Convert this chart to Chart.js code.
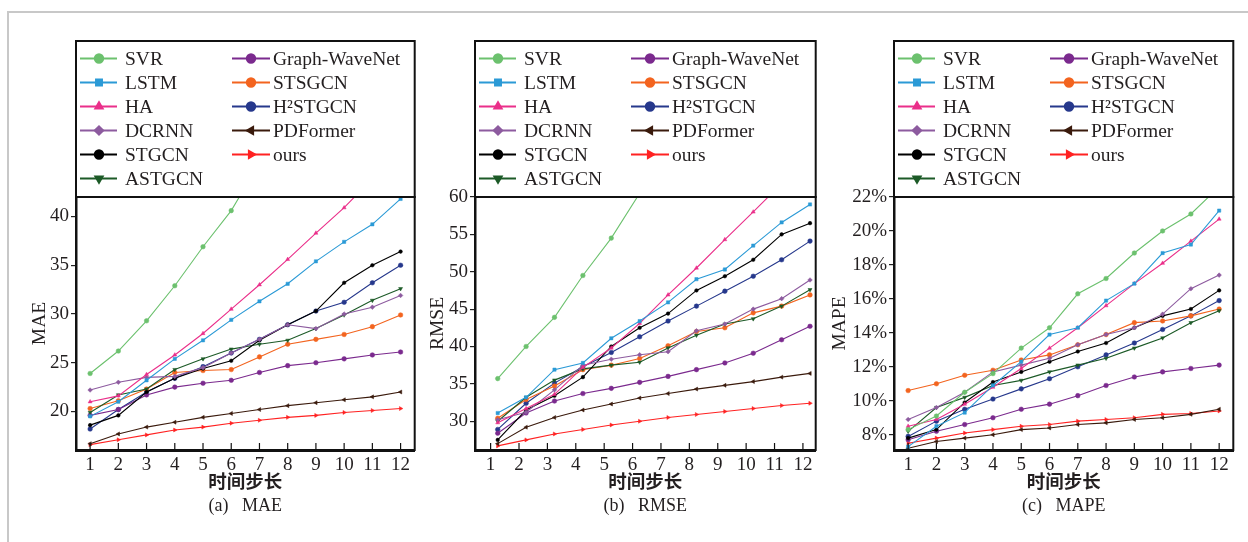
<!DOCTYPE html>
<html>
<head>
<meta charset="utf-8">
<script src="https://cdn.jsdelivr.net/npm/chart.js"></script>
<style>
    html, body { margin: 0; padding: 0; background: #fff; }
    body { width: 1248px; height: 542px; position: relative; overflow: hidden; }
    #frame { position: absolute; left: 7px; top: 11px; width: 1300px; height: 600px; border-left: 2px solid #c8c8c8; border-top: 2px solid #c8c8c8; }
    canvas { position: absolute; top: 0; }
</style>
</head>
<body>
<div id="frame"></div>
<canvas id="chart-mae" width="420" height="542" style="left:0;width:420px;height:542px"></canvas>
<canvas id="chart-rmse" width="410" height="542" style="left:420px;width:410px;height:542px"></canvas>
<canvas id="chart-mape" width="418" height="542" style="left:830px;width:418px;height:542px"></canvas>
<script>
// 时间步长
const steps = [1, 2, 3, 4, 5, 6, 7, 8, 9, 10, 11, 12]

// MAE
const maeSVR = [23.9, 26.2, 29.3, 32.9, 36.9, 40.6, 45.5, 50.5, 55.5, 60.5, 65.5, 70.5]
const maeLSTM = [19.5, 21.0, 23.2, 25.4, 27.3, 29.4, 31.3, 33.1, 35.4, 37.4, 39.2, 41.8]
const maeHA = [21.0, 21.6, 23.8, 25.8, 28.0, 30.5, 33.0, 35.6, 38.3, 40.9, 43.9, 47.0]
const maeDCRNN = [22.2, 23.0, 23.5, 23.6, 24.5, 26.0, 27.4, 28.9, 28.5, 30.0, 30.7, 31.9]
const maeSTGCN = [18.6, 19.6, 22.0, 23.4, 24.4, 25.2, 27.3, 28.9, 30.3, 33.2, 35.0, 36.4]
const maeASTGCN = [19.9, 21.7, 22.3, 24.3, 25.4, 26.4, 26.9, 27.3, 28.5, 29.9, 31.4, 32.6]
const maeGWN = [19.6, 20.2, 21.7, 22.5, 22.9, 23.2, 24.0, 24.7, 25.0, 25.4, 25.8, 26.1]
const maeSTSGCN = [20.3, 21.1, 22.3, 24.0, 24.2, 24.3, 25.6, 26.9, 27.4, 27.9, 28.7, 29.9]
const maeH2STGCN = [18.2, 20.2, 22.0, 23.4, 24.6, 26.0, 27.4, 28.9, 30.3, 31.2, 33.2, 35.0]
const maePDFormer = [16.7, 17.7, 18.4, 18.9, 19.4, 19.8, 20.2, 20.6, 20.9, 21.2, 21.5, 22.0]
const maeOurs = [16.6, 17.1, 17.6, 18.1, 18.4, 18.8, 19.1, 19.4, 19.6, 19.9, 20.1, 20.3]

// RMSE
const rmseSVR = [35.7, 40.0, 43.9, 49.5, 54.5, 60.5, 66.0, 71.0, 76.0, 81.0, 86.0, 91.0]
const rmseLSTM = [31.1, 33.2, 36.9, 37.8, 41.1, 43.4, 45.9, 49.0, 50.3, 53.5, 56.6, 59.0]
const rmseHA = [29.8, 31.7, 33.6, 37.2, 39.8, 43.1, 46.9, 50.5, 54.3, 58.0, 61.8, 65.6]
const rmseDCRNN = [30.2, 31.2, 34.2, 37.5, 38.3, 38.9, 39.3, 42.1, 43.0, 45.0, 46.4, 48.9]
const rmseSTGCN = [27.5, 31.5, 33.4, 35.9, 40.0, 42.5, 44.4, 47.5, 49.4, 51.6, 55.0, 56.5]
const rmseASTGCN = [30.0, 33.2, 35.5, 37.0, 37.5, 37.9, 39.8, 41.5, 43.0, 43.7, 45.4, 47.6]
const rmseGWN = [28.4, 31.1, 32.7, 33.7, 34.4, 35.2, 36.0, 36.9, 37.8, 39.1, 40.9, 42.7]
const rmseSTSGCN = [30.4, 32.9, 34.7, 36.9, 37.5, 38.4, 40.1, 42.0, 42.5, 44.5, 45.4, 46.9]
const rmseH2STGCN = [28.9, 32.4, 35.1, 37.3, 39.2, 41.3, 43.4, 45.4, 47.4, 49.4, 51.6, 54.1]
const rmsePDFormer = [27.0, 29.2, 30.5, 31.5, 32.3, 33.1, 33.7, 34.3, 34.8, 35.3, 35.9, 36.4]
const rmseOurs = [26.7, 27.5, 28.3, 28.9, 29.5, 30.0, 30.5, 30.9, 31.3, 31.7, 32.1, 32.4]

// MAPE (%)
const mapeSVR = [8.3, 9.1, 10.5, 11.6, 13.1, 14.3, 16.3, 17.2, 18.7, 20.0, 21.0, 22.6]
const mapeLSTM = [7.3, 8.5, 9.3, 10.9, 12.3, 13.9, 14.3, 15.9, 16.9, 18.7, 19.2, 21.2]
const mapeHA = [8.5, 8.9, 9.8, 10.8, 11.9, 13.1, 14.3, 15.6, 16.9, 18.1, 19.4, 20.7]
const mapeDCRNN = [8.9, 9.6, 10.5, 11.7, 12.1, 12.5, 13.3, 13.9, 14.3, 15.1, 16.6, 17.4]
const mapeSTGCN = [7.8, 8.3, 9.9, 11.1, 11.7, 12.3, 12.9, 13.4, 14.3, 15.0, 15.4, 16.5]
const mapeASTGCN = [8.2, 9.6, 10.2, 10.9, 11.2, 11.7, 12.1, 12.5, 13.1, 13.7, 14.6, 15.3]
const mapeGWN = [7.7, 8.2, 8.6, 9.0, 9.5, 9.8, 10.3, 10.9, 11.4, 11.7, 11.9, 12.1]
const mapeSTSGCN = [10.6, 11.0, 11.5, 11.8, 12.4, 12.7, 13.3, 13.9, 14.6, 14.7, 15.0, 15.4]
const mapeH2STGCN = [7.9, 8.8, 9.5, 10.1, 10.7, 11.3, 12.0, 12.7, 13.4, 14.2, 15.0, 15.9]
const mapePDFormer = [7.2, 7.6, 7.8, 8.0, 8.3, 8.4, 8.6, 8.7, 8.9, 9.0, 9.2, 9.5]
const mapeOurs = [7.5, 7.8, 8.1, 8.3, 8.5, 8.6, 8.8, 8.9, 9.0, 9.2, 9.25, 9.4]

// tick labels
const maeTicks = [20, 25, 30, 35, 40]
const rmseTicks = [30, 35, 40, 45, 50, 55, 60]
const mapeTicks = [8, 10, 12, 14, 16, 18, 20, 22]

// 图例顺序：左列 6 个，右列 5 个
const models = [
    { label: 'SVR', color: '#6cc16e', style: 'circle', rot: 0 },
    { label: 'LSTM', color: '#2b9ad6', style: 'rect', rot: 0 },
    { label: 'HA', color: '#ea2f8a', style: 'triangle', rot: 0 },
    { label: 'DCRNN', color: '#8d5b9f', style: 'rectRot', rot: 0 },
    { label: 'STGCN', color: '#000000', style: 'circle', rot: 0 },
    { label: 'ASTGCN', color: '#1c5a27', style: 'triangle', rot: 180 },
    { label: 'Graph-WaveNet', color: '#7b2a8e', style: 'circle', rot: 0 },
    { label: 'STSGCN', color: '#f3641f', style: 'circle', rot: 0 },
    { label: 'H²STGCN', color: '#26388c', style: 'circle', rot: 0 },
    { label: 'PDFormer', color: '#3a1a0c', style: 'triangle', rot: -90 },
    { label: 'ours', color: '#ff2222', style: 'triangle', rot: 90 },
]

const serif = '"Liberation Serif", "Times New Roman", serif'
const textColor = '#231f20'

const decor = {
    id: 'decor',
    afterDraw(chart, args, o) {
        const ctx = chart.ctx
        const a = chart.chartArea
        const legendTop = 41
        ctx.save()

        // legend box
        ctx.lineWidth = 2
        ctx.strokeStyle = '#111'
        ctx.strokeRect(a.left, legendTop, a.right - a.left, a.top - legendTop)

        chart.data.datasets.forEach((ds, i) => {
            const col = i < 6 ? 0 : 1
            const row = i < 6 ? i : i - 6
            const y = legendTop + 17.5 + row * 24
            const x0 = a.left + (col ? 156 : 4)
            const len = col ? 38 : 37
            ctx.strokeStyle = ds.borderColor
            ctx.fillStyle = ds.borderColor
            ctx.lineWidth = 2
            ctx.beginPath()
            ctx.moveTo(x0, y)
            ctx.lineTo(x0 + len, y)
            ctx.stroke()
            Chart.helpers.drawPoint(ctx, { pointStyle: ds.pointStyle, rotation: ds.pointRotation, radius: 4.2, borderWidth: 1 }, x0 + 19, y)
            ctx.fillStyle = textColor
            ctx.font = '19.5px ' + serif
            ctx.textAlign = 'left'
            ctx.textBaseline = 'middle'
            ctx.fillText(ds.label, x0 + (col ? 41 : 45), y + 1)
        })

        // plot frame
        ctx.lineWidth = 2
        ctx.strokeStyle = '#111'
        ctx.strokeRect(a.left, a.top, a.right - a.left, a.bottom - a.top)

        // inward x ticks
        const xs = chart.scales.x
        ctx.lineWidth = 1.2
        steps.forEach(v => {
            const px = xs.getPixelForValue(v)
            ctx.beginPath()
            ctx.moveTo(px, a.bottom)
            ctx.lineTo(px, a.bottom - 7)
            ctx.stroke()
        })

        // x title and caption
        const cx = (a.left + a.right) / 2
        ctx.fillStyle = textColor
        ctx.textAlign = 'center'
        ctx.textBaseline = 'middle'
        ctx.font = 'bold 18.5px "Noto Sans CJK SC"'
        ctx.fillText('时间步长', cx, 481)
        ctx.font = '18px ' + serif
        ctx.fillText(o.caption, cx, 506)
        ctx.restore()
    }
}

function makePanel(id, p) {
    const datasets = models.map((m, i) => ({
        label: m.label,
        data: p.series[i].map((v, k) => ({ x: steps[k] + p.shift, y: v })),
        borderColor: m.color,
        backgroundColor: m.color,
        borderWidth: 1.1,
        pointStyle: m.style,
        pointRotation: m.rot,
        pointRadius: m.label === 'STGCN' ? 1.8 : 2.3,
        pointBorderWidth: 0.5,
        tension: 0,
        clip: 0,
    }))

    return new Chart(document.getElementById(id).getContext('2d'), {
        type: 'line',
        data: { datasets },
        plugins: [decor],
        options: {
            responsive: false,
            animation: false,
            devicePixelRatio: 1,
            layout: { padding: { top: 197, right: p.padRight, bottom: 0, left: 0 } },
            plugins: {
                legend: { display: false },
                tooltip: { enabled: false },
                decor: { caption: p.caption },
            },
            scales: {
                x: {
                    type: 'linear',
                    min: p.xMin,
                    max: p.xMax,
                    afterBuildTicks: s => { s.ticks = steps.map(v => ({ value: v })) },
                    afterFit: s => { s.height = 92 },
                    grid: { drawOnChartArea: false, drawTicks: false },
                    border: { color: '#111', width: 3 },
                    ticks: { padding: 4, color: textColor, font: { family: serif, size: 19 }, maxRotation: 0, autoSkip: false },
                },
                y: {
                    min: p.yMin,
                    max: p.yMax,
                    afterBuildTicks: s => { s.ticks = p.yTicks.map(v => ({ value: v })) },
                    afterFit: s => { s.width = p.yWidth },
                    grid: { drawOnChartArea: false, drawTicks: true, tickLength: 5, color: '#222', lineWidth: 1.2 },
                    border: { color: '#111', width: 2.5 },
                    ticks: {
                        padding: 2,
                        color: textColor,
                        font: { family: serif, size: 19 },
                        callback: v => v + p.unit,
                    },
                    title: {
                        display: true,
                        text: p.yTitle,
                        color: textColor,
                        font: { family: serif, size: 19.5, lineHeight: 1 },
                        padding: { top: p.titlePad, bottom: 0 },
                    },
                },
            },
        },
    })
}

makePanel('chart-mae', {
    series: [maeSVR, maeLSTM, maeHA, maeDCRNN, maeSTGCN, maeASTGCN, maeGWN, maeSTSGCN, maeH2STGCN, maePDFormer, maeOurs],
    shift: 0, xMin: 0.5, xMax: 12.5,
    yMin: 16.05, yMax: 42, yTicks: maeTicks, unit: '',
    yTitle: 'MAE', titlePad: 30, yWidth: 76, padRight: 5.3,
    caption: '(a)   MAE',
})

makePanel('chart-rmse', {
    series: [rmseSVR, rmseLSTM, rmseHA, rmseDCRNN, rmseSTGCN, rmseASTGCN, rmseGWN, rmseSTSGCN, rmseH2STGCN, rmsePDFormer, rmseOurs],
    shift: 0.25, xMin: 0.45, xMax: 12.45,
    yMin: 26.15, yMax: 60, yTicks: rmseTicks, unit: '',
    yTitle: 'RMSE', titlePad: 8, yWidth: 55, padRight: 14.3,
    caption: '(b)   RMSE',
})

makePanel('chart-mape', {
    series: [mapeSVR, mapeLSTM, mapeHA, mapeDCRNN, mapeSTGCN, mapeASTGCN, mapeGWN, mapeSTSGCN, mapeH2STGCN, mapePDFormer, mapeOurs],
    shift: 0, xMin: 0.5, xMax: 12.5,
    yMin: 7.1, yMax: 22, yTicks: mapeTicks, unit: '%',
    yTitle: 'MAPE', titlePad: 0, yWidth: 64, padRight: 14.7,
    caption: '(c)   MAPE',
})
</script>
</body>
</html>
